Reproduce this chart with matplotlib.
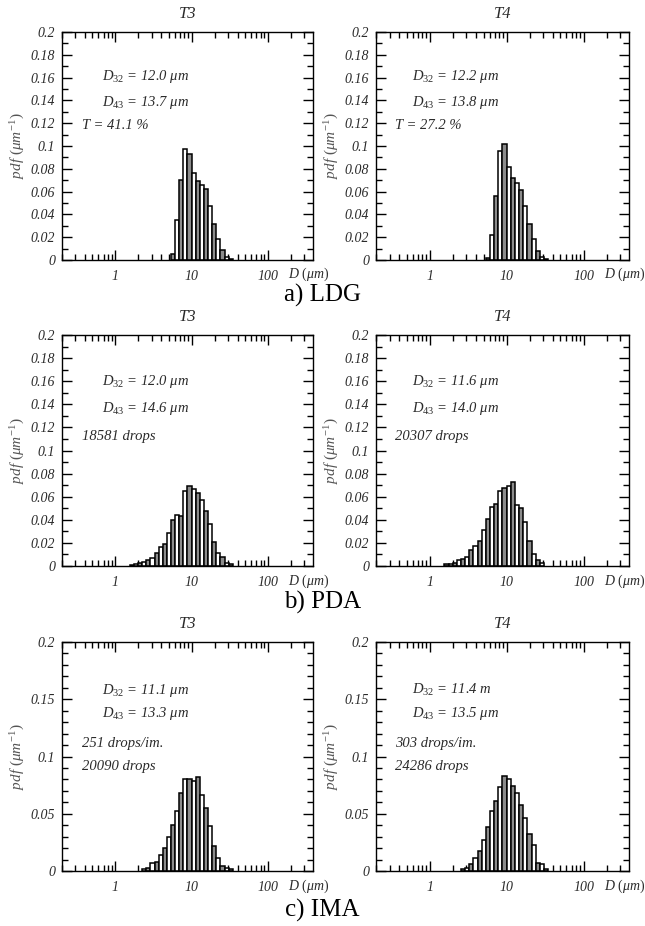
import matplotlib
matplotlib.use("Agg")
import matplotlib.pyplot as plt
from matplotlib.ticker import LogLocator, FixedLocator, FixedFormatter, NullFormatter, MultipleLocator

plt.rcParams['font.family'] = ['Liberation Serif', 'DejaVu Serif']
plt.rcParams['mathtext.fontset'] = 'custom'
plt.rcParams['mathtext.rm'] = 'Liberation Serif'
plt.rcParams['mathtext.it'] = 'Liberation Serif:italic'
plt.rcParams['mathtext.bf'] = 'Liberation Serif:bold'

# ---------------- data ----------------
# droplet diameter bin edges (um), log-spaced
bin_edges = [1.368, 1.549, 1.754, 1.986, 2.249, 2.547, 2.884, 3.266, 3.698, 4.188,
             4.742, 5.370, 6.081, 6.887, 7.798, 8.831, 10.00, 11.32, 12.82, 14.52,
             16.44, 18.62, 21.09, 23.88, 27.04, 30.62, 34.67]

ldg_t3 = [0, 0, 0, 0, 0, 0, 0, 0, 0, 0, 0,
          0.005, 0.035, 0.070, 0.097, 0.093, 0.076, 0.069, 0.066, 0.062, 0.047,
          0.032, 0.018, 0.009, 0.003, 0.001]
ldg_t4 = [0, 0, 0, 0, 0, 0, 0, 0, 0, 0, 0,
          0.002, 0.022, 0.056, 0.096, 0.1015, 0.082, 0.072, 0.0675, 0.0616, 0.047,
          0.032, 0.018, 0.008, 0.003, 0.001]
pda_t3 = [0, 0.001, 0.0015, 0.0026, 0.0035, 0.005, 0.0066, 0.011, 0.0165, 0.019, 0.0286,
          0.040, 0.044, 0.043, 0.065, 0.069, 0.067, 0.063, 0.057, 0.048, 0.036,
          0.021, 0.0116, 0.0078, 0.003, 0.002]
pda_t4 = [0, 0.0015, 0.002, 0.0026, 0.005, 0.006, 0.0078, 0.0136, 0.017, 0.0214, 0.031,
          0.041, 0.051, 0.0535, 0.065, 0.0676, 0.069, 0.073, 0.053, 0.0506, 0.038,
          0.022, 0.0107, 0.005, 0.0026, 0]
ima_t3 = [0, 0, 0, 0, 0.0015, 0.003, 0.0067, 0.008, 0.014, 0.0198, 0.030,
          0.040, 0.0528, 0.068, 0.080, 0.080, 0.079, 0.082, 0.0665, 0.055, 0.039,
          0.022, 0.011, 0.004, 0.0023, 0.0015]
ima_t4 = [0, 0, 0, 0, 0, 0.0015, 0.003, 0.006, 0.011, 0.0175, 0.027,
          0.0388, 0.0525, 0.061, 0.073, 0.083, 0.080, 0.0746, 0.0685, 0.058, 0.0466,
          0.032, 0.0227, 0.007, 0.006, 0.0015]

panel_titles = ["T3", "T4"]
row_labels = ["a) LDG", "b) PDA", "c) IMA"]
annotations = [
    [[r"$D_{32}$ = 12.0 μm", r"$D_{43}$ = 13.7 μm", "T = 41.1 %"],
     [r"$D_{32}$ = 12.2 μm", r"$D_{43}$ = 13.8 μm", "T = 27.2 %"]],
    [[r"$D_{32}$ = 12.0 μm", r"$D_{43}$ = 14.6 μm", "18581 drops"],
     [r"$D_{32}$ = 11.6 μm", r"$D_{43}$ = 14.0 μm", "20307 drops"]],
    [[r"$D_{32}$ = 11.1 μm", r"$D_{43}$ = 13.3 μm", "251 drops/im.", "20090 drops"],
     [r"$D_{32}$ = 11.4 m", r"$D_{43}$ = 13.5 μm", "303 drops/im.", "24286 drops"]],
]
series = [[ldg_t3, ldg_t4], [pda_t3, pda_t4], [ima_t3, ima_t4]]

x_ticks = [1, 10, 100]
x_ticklabels = ["1", "10", "100"]
y_ticks_ab = [0, 0.02, 0.04, 0.06, 0.08, 0.1, 0.12, 0.14, 0.16, 0.18, 0.2]
y_ticklabels_ab = ["0", "0.02", "0.04", "0.06", "0.08", "0.1", "0.12", "0.14", "0.16", "0.18", "0.2"]
y_ticks_c = [0, 0.05, 0.1, 0.15, 0.2]
y_ticklabels_c = ["0", "0.05", "0.1", "0.15", "0.2"]

# ---------------- layout ----------------
W, H = 645, 926
fig = plt.figure(figsize=(W / 100, H / 100), dpi=100)
col_x = [(62, 251), (376, 253)]
row_y = [(32, 260), (335, 566), (642, 871)]
row_label_y = [295, 602, 910]

GRAY = "#8c8c8c"
TXT = "#2a2a2a"

for r in range(3):
    top, bot = row_y[r]
    for c in range(2):
        left, w = col_x[c]
        ax = fig.add_axes([left / W, 1 - bot / H, w / W, (bot - top) / H])
        vals = series[r][c]
        xs, ws, hs, cols = [], [], [], []
        for i, h in enumerate(vals):
            if h > 0:
                xs.append(bin_edges[i])
                ws.append(bin_edges[i + 1] - bin_edges[i])
                hs.append(h)
                cols.append("white" if i % 2 == 0 else GRAY)
        ax.bar(xs, hs, width=ws, align="edge", color=cols, edgecolor="black",
               linewidth=1.1, zorder=2)
        ax.set_xscale("log")
        ax.set_xlim(0.2, 390)
        ax.set_ylim(0, 0.2)
        ax.xaxis.set_major_locator(FixedLocator(x_ticks))
        ax.xaxis.set_major_formatter(FixedFormatter(x_ticklabels))
        ax.xaxis.set_minor_locator(LogLocator(base=10, subs=range(2, 10)))
        ax.xaxis.set_minor_formatter(NullFormatter())
        if r < 2:
            ax.yaxis.set_major_locator(FixedLocator(y_ticks_ab))
            ax.yaxis.set_major_formatter(FixedFormatter(y_ticklabels_ab))
        else:
            ax.yaxis.set_major_locator(FixedLocator(y_ticks_c))
            ax.yaxis.set_major_formatter(FixedFormatter(y_ticklabels_c))
        ax.yaxis.set_minor_locator(MultipleLocator(0.01))
        ax.tick_params(which="both", direction="in", top=True, right=True,
                       labelsize=10, labelcolor=TXT, width=1.0)
        ax.tick_params(which="major", length=7)
        ax.tick_params(axis="x", which="major", pad=7)
        ax.tick_params(axis="y", which="major", pad=5)
        ax.tick_params(which="minor", length=4)
        for lab in ax.get_xticklabels() + ax.get_yticklabels():
            lab.set_fontstyle("italic")
        for s in ax.spines.values():
            s.set_linewidth(1.0)
        ax.set_ylabel(r"$pdf\ (\mu m^{-1})$", fontsize=11, color="#555555")
        ax.yaxis.set_label_coords(-0.14, 0.5)
        ax.text(0.9, -0.065, r"$D$ $(\mu m)$", transform=ax.transAxes,
                ha="left", va="center", fontsize=10, color=TXT)
        ax.text(0.5, 1.08, panel_titles[c], transform=ax.transAxes, ha="center",
                va="center", fontsize=12, fontstyle="italic", color=TXT)
        # annotations
        lines = annotations[r][c]
        if r == 0:
            ys = [0.803, 0.689, 0.588]
        elif r == 1:
            ys = [0.798, 0.68, 0.559]
        else:
            ys = [0.79, 0.686, 0.555, 0.456]
        xd = 0.158 if c == 0 else 0.141
        xo = 0.08 if c == 0 else 0.075
        for j, (t, yy) in enumerate(zip(lines, ys)):
            xx = xd if j < 2 else xo
            ax.text(xx, yy, t, transform=ax.transAxes, ha="left", va="center",
                    fontsize=10.5, fontstyle="italic", color=TXT)
    fig.text(0.5, 1 - row_label_y[r] / H, row_labels[r], ha="center", va="center",
             fontsize=18, color="black")

fig.savefig("out.png", dpi=100)
